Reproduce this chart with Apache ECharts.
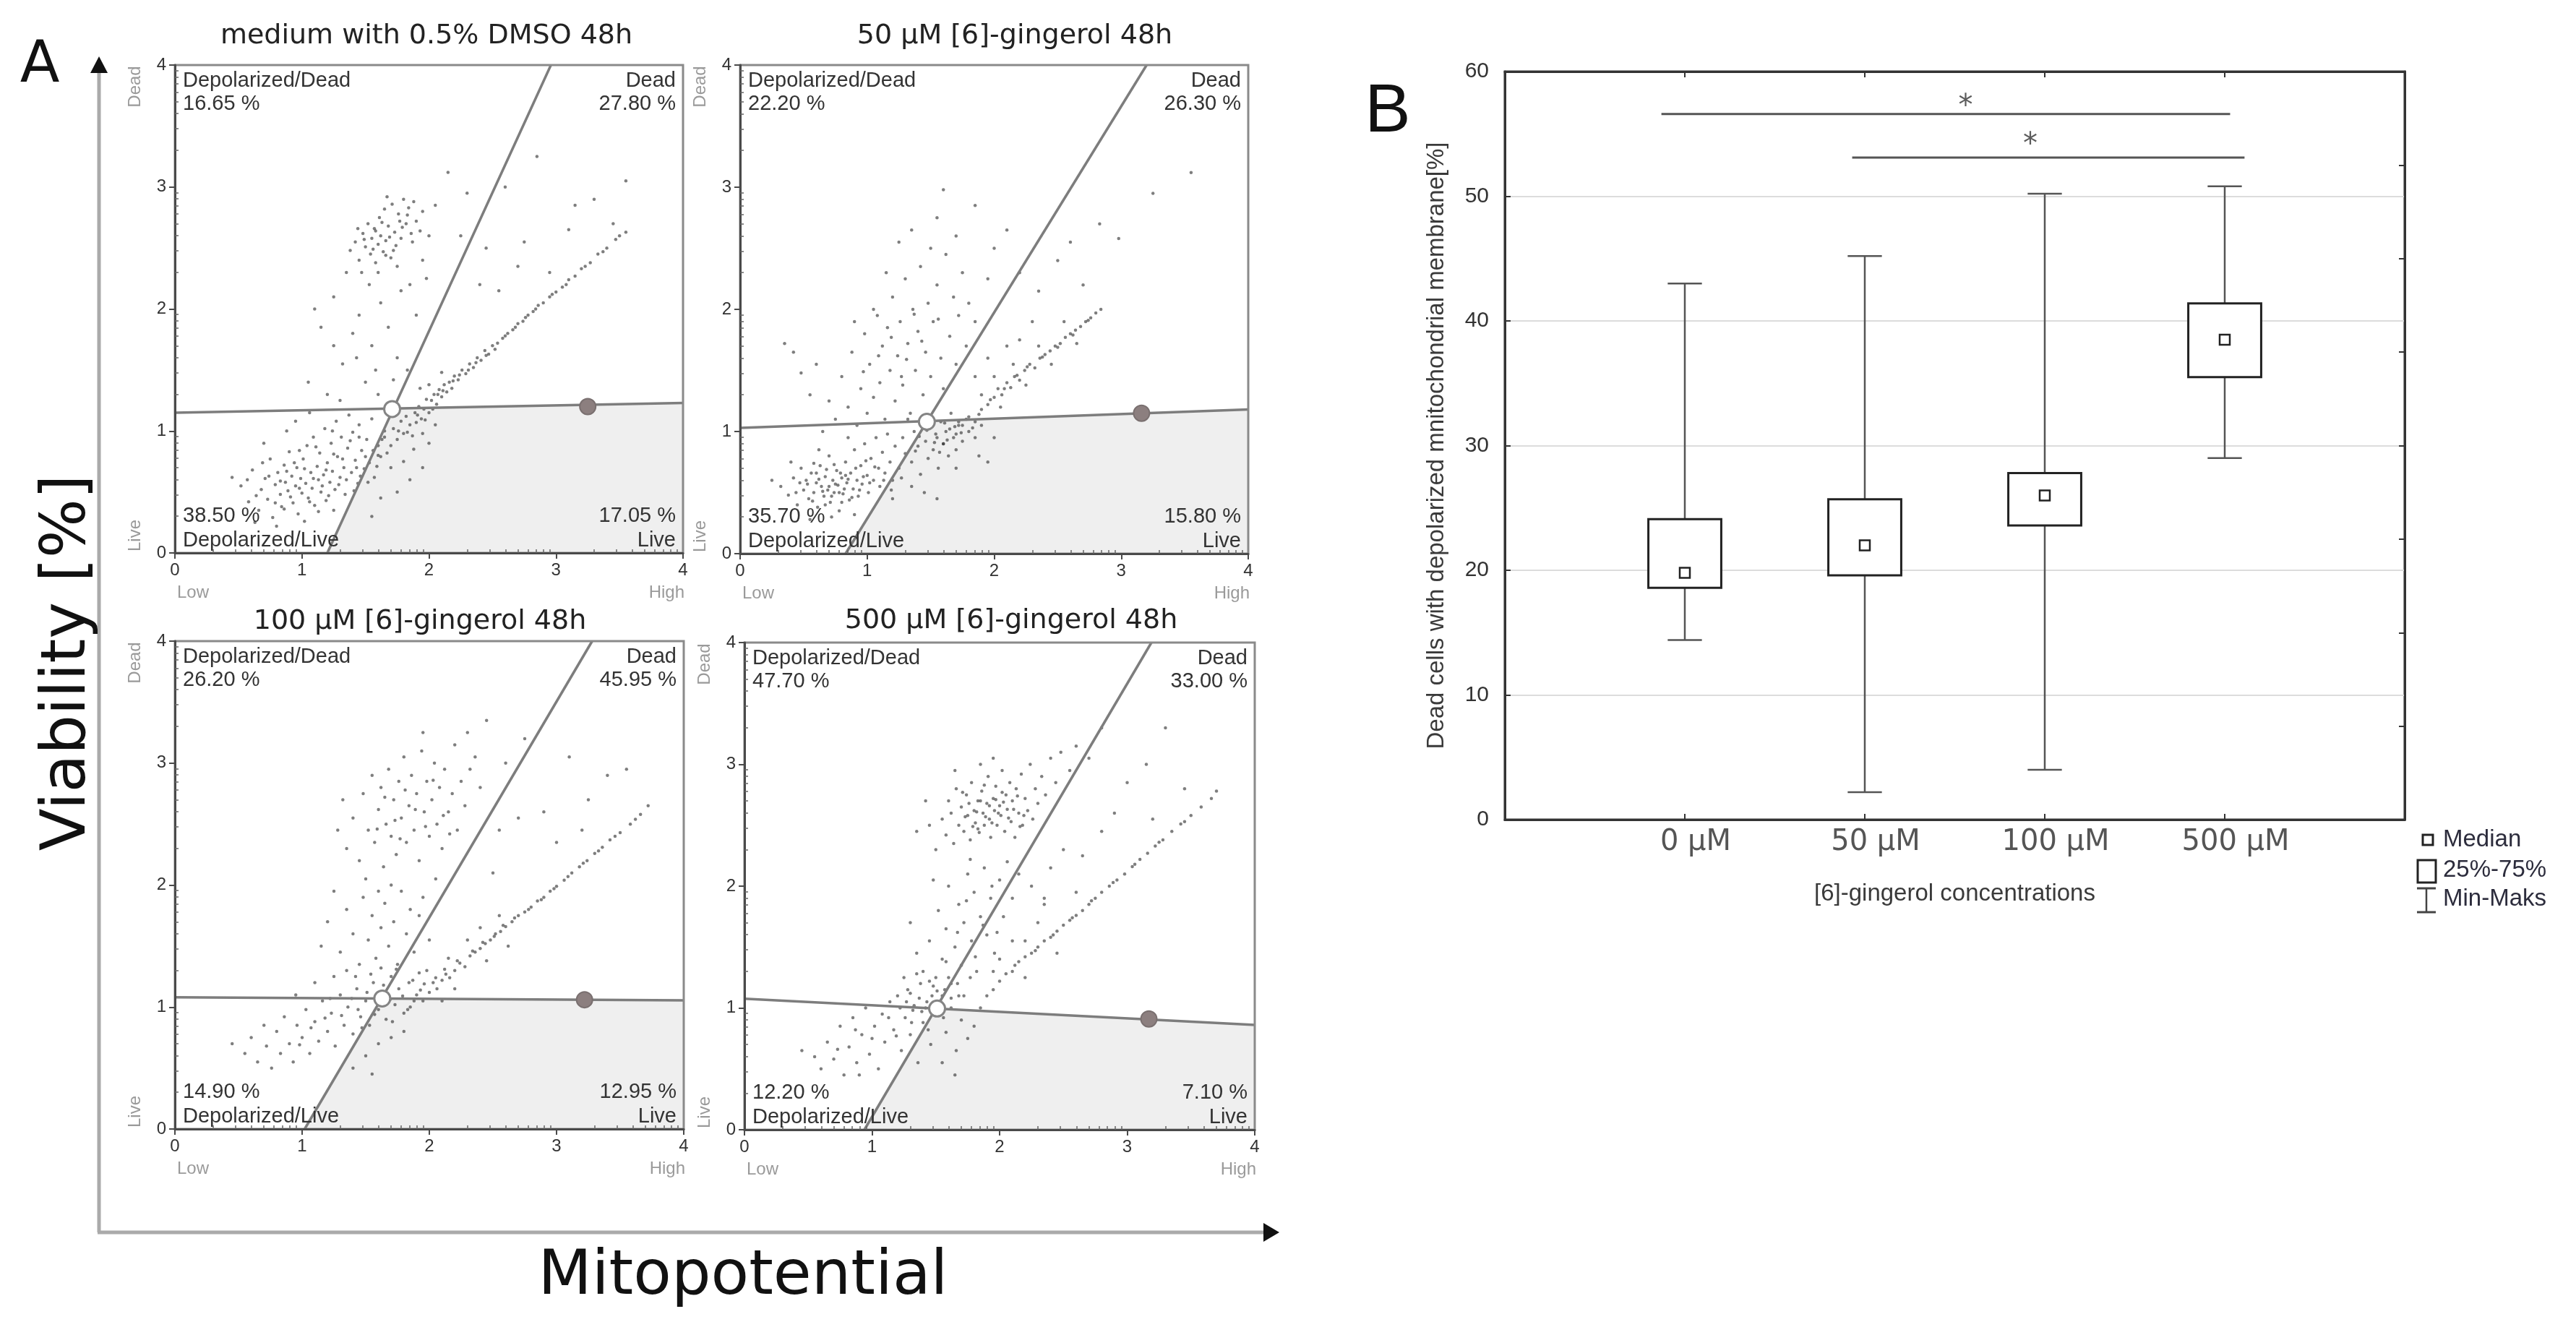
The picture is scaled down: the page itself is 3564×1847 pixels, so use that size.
<!DOCTYPE html>
<html><head><meta charset="utf-8">
<script src="https://cdn.jsdelivr.net/npm/echarts@6/dist/echarts.min.js"></script>
<style>html,body{margin:0;padding:0;background:#fff}#c{width:3564px;height:1847px}</style>
</head><body><div id="c"></div>
<script>
// ---------------- DATA ----------------
const panelTitles = ['medium with 0.5% DMSO 48h', '50 µM [6]-gingerol 48h', '100 µM [6]-gingerol 48h', '500 µM [6]-gingerol 48h'];
const quadNames = ['Depolarized/Dead', 'Dead', 'Depolarized/Live', 'Live'];
const quadPct = [
  ['16.65 %', '27.80 %', '38.50 %', '17.05 %'],
  ['22.20 %', '26.30 %', '35.70 %', '15.80 %'],
  ['26.20 %', '45.95 %', '14.90 %', '12.95 %'],
  ['47.70 %', '33.00 %', '12.20 %', '7.10 %']
];
const scatterTicks = ['0', '1', '2', '3', '4'];
// horizontal gate: y at x=0 and x=4
const gateH = [[1.15, 1.23], [1.03, 1.18], [1.08, 1.055], [1.075, 0.86]];
// diagonal gate: x at y=0 and y=4
const gateD = [[1.2, 2.96], [0.83, 3.2], [1.02, 3.28], [0.94, 3.19]];
const gateCross = [[1.71, 1.18], [1.47, 1.08], [1.63, 1.07], [1.51, 0.995]];
const gateDot = [[3.25, 1.2], [3.16, 1.15], [3.22, 1.06], [3.17, 0.91]];

// events (x, y pairs)
const dmsoPts = [
0.52,0.55,0.58,0.42,0.61,0.68,0.66,0.35,0.68,0.52,0.71,0.61,0.73,0.44,0.75,0.77,0.77,0.29,0.79,0.56,0.81,0.66,0.83,0.48,0.84,0.38,0.86,0.72,0.87,0.58,0.89,0.51,0.9,0.83,0.92,0.63,0.93,0.41,0.95,0.55,0.96,0.7,0.97,0.32,0.99,0.61,1.0,0.49,1.01,0.77,1.03,0.57,1.04,0.88,1.05,0.45,1.07,0.66,1.08,0.53,1.09,0.95,1.1,0.39,1.12,0.71,1.13,0.6,1.14,0.82,1.15,0.5,1.17,0.64,1.18,1.02,1.19,0.43,1.2,0.74,1.22,0.58,1.23,0.9,1.24,0.67,1.26,0.52,1.27,1.08,1.28,0.79,1.3,0.62,1.31,0.95,1.33,0.7,1.34,0.48,1.36,0.86,1.37,1.13,1.39,0.66,1.4,0.99,1.42,0.76,1.44,0.57,1.45,1.05,1.47,0.84,1.49,0.69,1.51,0.93,1.53,0.74,1.55,1.1,1.57,0.62,1.6,0.88,1.62,0.79,1.65,1.0,0.45,0.62,0.63,0.25,0.8,0.22,1.02,0.26,1.25,0.35,0.7,0.9,0.88,1.0,1.06,1.15,0.95,1.08,
1.38,2.48,1.42,2.55,1.45,2.4,1.48,2.62,1.5,2.51,1.52,2.7,1.54,2.45,1.55,2.58,1.57,2.66,1.58,2.38,1.6,2.53,1.61,2.75,1.62,2.6,1.64,2.47,1.65,2.82,1.66,2.56,1.68,2.68,1.7,2.42,1.71,2.86,1.73,2.63,1.74,2.52,1.76,2.78,1.78,2.58,1.8,2.9,1.82,2.7,1.84,2.83,1.86,2.62,1.88,2.88,1.6,2.3,1.53,2.2,1.9,2.72,1.95,2.8,1.75,2.35,1.47,2.3,1.67,2.92,
1.2,1.3,1.32,1.55,1.4,1.8,1.25,2.1,1.45,1.95,1.55,1.7,1.62,2.05,1.3,1.25,1.68,1.85,1.75,1.6,1.85,2.2,1.9,1.95,1.5,1.4,1.6,1.3,1.78,2.15,1.15,1.85,1.35,2.3,1.95,2.4,2.0,2.6,1.05,1.4,1.1,2.0,1.72,1.42,1.83,1.5,1.25,1.7,2.05,2.85,1.98,2.25,1.43,1.6,1.58,1.5,
1.6,0.8,1.65,0.95,1.7,0.88,1.72,1.02,1.75,0.93,1.78,1.08,1.8,0.98,1.82,1.12,1.85,1.05,1.87,0.96,1.89,1.15,1.9,1.07,1.92,1.2,1.94,1.1,1.96,1.18,1.98,1.26,2.0,1.15,2.02,1.25,2.04,1.3,2.06,1.22,2.08,1.34,2.1,1.28,2.12,1.38,2.14,1.32,2.16,1.4,2.18,1.35,2.2,1.45,2.23,1.42,2.26,1.5,2.29,1.47,2.32,1.55,2.35,1.52,2.38,1.6,2.41,1.58,2.44,1.66,2.47,1.63,2.5,1.7,2.54,1.72,2.58,1.76,2.62,1.8,2.66,1.83,2.7,1.88,2.74,1.9,2.78,1.95,2.82,1.98,2.86,2.03,2.9,2.05,2.95,2.1,3.0,2.14,3.05,2.18,3.1,2.24,3.15,2.27,3.2,2.33,3.27,2.38,3.33,2.45,3.4,2.5,3.47,2.57,3.55,2.63,
1.88,0.85,1.95,0.98,2.05,1.05,1.7,0.7,1.8,0.75,2.0,1.38,2.1,1.48,1.93,1.35,
2.15,3.12,2.3,2.95,2.45,2.5,2.6,3.0,2.75,2.55,2.85,3.25,2.95,2.3,3.1,2.65,3.3,2.9,3.45,2.7,3.55,3.05,2.55,2.15,2.4,2.2,2.7,2.35,3.15,2.85,2.25,2.6,
1.75,0.5,1.85,0.6,1.55,0.3,1.62,0.45,2.0,0.9,1.95,0.7,
0.74,0.63,0.79,0.41,0.83,0.59,0.88,0.67,0.91,0.46,0.94,0.74,0.98,0.53,1.02,0.69,1.06,0.42,1.09,0.61,1.11,0.87,1.16,0.55,1.19,0.68,1.21,0.47,1.25,0.81,1.29,0.56,1.32,0.77,1.35,0.6,1.38,0.92,1.41,0.51,1.43,0.7,1.46,0.63,1.5,0.79,1.52,0.58,1.56,0.84,1.59,0.71,1.63,0.93,1.67,0.82,0.69,0.74,0.64,0.47,0.57,0.6,0.86,0.36,1.13,0.34,0.98,0.84,1.24,1.0,1.45,0.95,
1.76,1.0,1.83,0.99,1.91,1.13,1.97,1.09,2.03,1.18,2.07,1.3,2.11,1.33,2.19,1.41,2.24,1.46,2.31,1.5,2.37,1.56,2.45,1.62,2.52,1.67,2.6,1.78,2.68,1.85,2.76,1.93,2.84,2.0,2.97,2.12,3.08,2.2,3.23,2.35,3.37,2.47,3.5,2.6,
1.49,2.57,1.56,2.49,1.63,2.71,1.69,2.59,1.72,2.48,1.79,2.67,1.83,2.77,1.58,2.64,1.66,2.44,1.77,2.72,1.44,2.66,1.87,2.55,1.93,2.64
];
const g50Pts = [
0.32,0.55,0.38,0.48,0.42,0.62,0.45,0.4,0.48,0.7,0.5,0.52,0.52,0.6,0.54,0.45,0.56,0.66,0.58,0.5,0.6,0.58,0.61,0.38,0.63,0.72,0.64,0.55,0.66,0.47,0.67,0.63,0.69,0.52,0.7,0.8,0.71,0.42,0.73,0.6,0.74,0.5,0.76,0.68,0.77,0.56,0.78,0.35,0.8,0.62,0.81,0.49,0.83,0.75,0.84,0.58,0.86,0.44,0.87,0.66,0.89,0.53,0.9,0.85,0.92,0.6,0.93,0.47,0.95,0.72,0.96,0.57,0.98,0.9,1.0,0.64,1.01,0.5,1.03,0.78,1.05,0.6,1.07,0.95,1.09,0.7,1.1,0.55,1.12,0.83,1.14,0.66,1.16,0.98,1.18,0.75,1.2,0.6,1.22,0.88,0.55,0.28,0.72,0.3,0.9,0.32,0.4,0.75,0.62,0.85,0.25,0.6,0.85,0.95,
0.65,1.0,0.7,1.25,0.75,1.1,0.8,1.45,0.85,1.2,0.88,1.65,0.92,1.05,0.95,1.35,0.98,1.8,1.0,1.15,1.02,1.55,1.05,1.28,1.08,1.95,1.1,1.4,1.12,1.7,1.14,1.1,1.16,1.85,1.18,1.5,1.2,2.1,1.22,1.25,1.24,1.62,1.26,1.9,1.28,1.38,1.3,2.25,1.32,1.72,1.34,1.15,1.36,2.0,1.38,1.5,1.4,1.82,1.42,2.35,1.44,1.3,1.46,1.65,1.48,2.05,1.5,1.45,1.52,1.9,1.55,2.2,1.58,1.6,1.6,1.35,1.62,2.45,1.65,1.78,1.68,2.1,1.7,1.55,1.72,1.95,1.75,2.3,1.78,1.7,1.8,2.05,1.85,1.9,0.6,1.55,0.55,1.3,0.48,1.48,0.35,1.72,0.42,1.65,1.25,2.55,1.35,2.65,1.5,2.5,1.15,2.3,1.05,2.0,0.9,1.9,
1.25,0.7,1.28,0.95,1.3,0.82,1.32,1.1,1.35,0.75,1.37,1.0,1.4,0.88,1.42,0.65,1.44,1.05,1.46,0.92,1.48,0.78,1.5,1.12,1.52,0.85,1.54,0.98,1.56,0.7,1.58,1.08,1.6,0.9,1.62,1.0,1.64,0.8,1.66,1.15,1.68,0.95,1.7,0.85,1.72,1.05,1.75,0.92,1.78,1.1,1.8,1.0,1.85,0.95,1.9,1.05,1.35,0.55,1.45,0.5,1.55,0.45,1.2,0.45,
1.55,0.95,1.6,0.9,1.65,1.02,1.7,0.98,1.75,1.05,1.8,1.12,1.85,1.08,1.9,1.18,1.95,1.22,2.0,1.28,2.03,1.35,2.06,1.3,2.1,1.4,2.13,1.36,2.16,1.45,2.2,1.42,2.24,1.5,2.28,1.55,2.32,1.52,2.36,1.6,2.4,1.63,2.44,1.66,2.48,1.7,2.52,1.72,2.56,1.77,2.6,1.8,2.64,1.83,2.68,1.86,2.72,1.9,2.76,1.93,2.8,1.97,2.84,2.0,2.05,1.2,2.15,1.55,2.25,1.38,2.35,1.7,2.45,1.55,2.55,1.9,2.65,1.72,1.9,1.3,2.0,1.45,
1.95,1.6,2.1,1.7,1.85,1.45,2.2,1.75,2.3,1.9,2.0,0.95,1.88,0.8,1.7,0.7,1.95,0.75,
1.55,2.75,1.7,2.6,1.85,2.85,2.0,2.5,2.1,2.65,2.2,2.3,2.35,2.15,2.5,2.4,2.83,2.7,2.98,2.58,3.25,2.95,3.55,3.12,1.6,2.98,1.95,2.25,2.7,2.2,2.6,2.55,
0.53,0.57,0.57,0.43,0.62,0.61,0.65,0.51,0.68,0.69,0.72,0.47,0.75,0.57,0.79,0.66,0.82,0.53,0.85,0.61,0.88,0.46,0.91,0.7,0.94,0.52,0.97,0.63,1.02,0.58,1.06,0.71,0.6,0.66,0.67,0.4,0.74,0.73,0.8,0.42,0.47,0.58,0.44,0.5,0.58,0.74,0.7,0.55,0.78,0.5,0.83,0.64,0.99,0.76,1.13,0.6,1.27,0.62,1.19,0.52,
1.41,0.96,1.53,0.91,1.61,1.07,1.69,1.04,1.74,0.99,1.57,0.83,1.47,1.01,1.38,0.84,1.83,1.03,1.63,0.93,
1.72,1.08,1.88,1.14,1.97,1.26,2.08,1.35,2.18,1.46,2.26,1.53,2.38,1.61,2.5,1.69,2.62,1.79,2.74,1.91,
1.19,1.77,1.31,1.59,1.43,1.74,1.09,1.62,1.27,1.45,1.56,1.92,0.97,1.49,1.37,1.96
];
const g100Pts = [
1.35,2.3,1.4,2.55,1.45,2.2,1.48,2.75,1.52,2.45,1.55,2.9,1.57,2.35,1.6,2.62,1.62,2.8,1.64,2.15,1.66,2.5,1.68,2.95,1.7,2.4,1.72,2.7,1.74,2.25,1.76,2.85,1.78,2.55,1.8,3.05,1.82,2.35,1.84,2.65,1.86,2.9,1.88,2.45,1.9,2.75,1.92,2.2,1.94,3.1,1.96,2.6,1.98,2.85,2.0,2.4,2.02,2.7,2.04,3.0,2.06,2.5,2.08,2.8,2.1,2.3,2.12,2.95,2.15,2.6,2.18,2.75,2.2,3.15,2.22,2.45,2.25,2.85,2.28,2.65,2.32,2.95,2.36,3.05,2.4,2.8,1.5,2.05,1.6,1.95,1.7,2.0,1.28,2.45,1.32,2.7,2.3,3.25,1.95,3.25,
1.3,1.45,1.35,1.8,1.4,1.6,1.45,1.35,1.48,1.9,1.52,1.55,1.55,1.75,1.58,1.4,1.62,1.65,1.65,1.85,1.68,1.5,1.72,1.7,1.75,1.35,1.78,1.95,1.82,1.6,1.85,1.8,1.88,1.45,1.92,1.75,1.2,1.7,1.25,1.95,1.15,1.5,2.0,1.55,1.95,1.9,2.05,2.05,1.42,1.25,
0.55,0.62,0.6,0.75,0.65,0.55,0.7,0.85,0.72,0.68,0.76,0.5,0.8,0.8,0.83,0.62,0.86,0.92,0.9,0.7,0.93,0.55,0.96,0.85,1.0,0.75,1.03,0.98,1.06,0.62,1.1,0.88,1.13,0.72,1.16,1.05,1.2,0.8,1.23,0.95,1.26,0.68,1.3,1.1,1.33,0.85,1.36,1.0,1.4,0.78,1.43,1.15,1.46,0.92,1.5,1.05,1.53,0.85,1.56,1.2,1.6,0.98,1.63,1.1,1.66,0.9,1.7,1.25,1.73,1.02,1.76,1.15,1.8,0.95,1.84,1.2,1.88,1.05,1.92,1.28,1.5,0.6,1.6,0.7,1.7,0.75,1.8,0.8,1.4,0.5,1.55,0.45,1.25,1.25,1.35,1.3,1.1,1.2,0.95,1.1,0.45,0.7,
1.85,1.0,1.9,1.1,1.95,1.05,2.0,1.12,2.03,1.2,2.06,1.15,2.1,1.22,2.13,1.27,2.16,1.24,2.2,1.3,2.24,1.36,2.28,1.33,2.32,1.42,2.36,1.45,2.4,1.48,2.44,1.52,2.48,1.55,2.52,1.6,2.56,1.62,2.6,1.66,2.65,1.7,2.7,1.75,2.75,1.78,2.8,1.82,2.85,1.87,2.9,1.9,2.95,1.95,3.0,1.99,3.06,2.04,3.12,2.1,3.18,2.15,3.24,2.2,3.3,2.26,3.36,2.31,3.42,2.37,3.5,2.43,3.58,2.5,3.66,2.58,3.72,2.65,2.15,1.4,2.3,1.55,2.45,1.38,2.55,1.75,2.2,1.15,2.4,1.65,2.62,1.5,1.98,1.3,2.1,1.05,
2.45,3.35,2.6,3.0,2.75,3.2,2.9,2.6,3.0,2.35,3.1,3.05,3.25,2.7,3.4,2.9,3.55,2.95,2.55,2.45,2.7,2.55,2.5,2.1,3.2,2.45,
1.44,0.98,1.51,1.12,1.57,0.94,1.64,1.18,1.69,1.06,1.74,1.31,1.79,1.09,1.83,0.98,1.87,1.22,1.93,1.14,1.54,1.27,1.62,1.32,1.71,0.88,1.47,0.83,1.39,1.07,1.31,0.93,1.22,1.07,1.18,0.91,1.07,0.83,0.98,0.69,
1.96,1.19,2.05,1.24,2.12,1.31,2.22,1.38,2.34,1.46,2.42,1.53,2.51,1.58,2.58,1.67,2.67,1.73,2.78,1.8,2.88,1.88,2.98,1.97,3.09,2.07,3.21,2.18,3.33,2.28,3.46,2.4,3.62,2.54,
1.65,2.72,1.73,2.53,1.81,2.78,1.89,2.62,1.97,2.48,2.03,2.86,2.11,2.57,1.59,2.46,1.77,2.38,2.16,2.42
];
const g500Pts = [
1.55,2.55,1.58,2.42,1.6,2.7,1.62,2.6,1.64,2.35,1.66,2.8,1.68,2.5,1.7,2.65,1.72,2.45,1.74,2.75,1.75,2.58,1.77,2.38,1.78,2.85,1.8,2.62,1.81,2.52,1.83,2.7,1.84,2.44,1.86,2.78,1.87,2.6,1.88,2.5,1.9,2.68,1.91,2.9,1.92,2.55,1.93,2.4,1.95,2.72,1.96,2.62,1.97,2.82,1.98,2.5,2.0,2.66,2.01,2.58,2.02,2.95,2.04,2.45,2.05,2.75,2.06,2.63,2.08,2.85,2.09,2.53,2.1,2.7,2.12,2.4,2.13,2.8,2.15,2.6,2.17,2.92,2.18,2.5,2.2,2.72,2.22,2.62,2.24,3.0,2.26,2.55,2.28,2.8,2.3,2.68,2.33,2.9,2.36,2.75,2.4,3.05,2.44,2.85,2.48,3.1,1.5,2.3,1.45,2.5,1.42,2.7,1.65,2.95,1.85,3.0,1.95,3.05,2.6,3.15,2.55,2.95,1.35,2.45,
1.4,1.3,1.45,1.55,1.5,1.25,1.52,1.8,1.55,1.4,1.58,1.65,1.6,2.0,1.62,1.2,1.65,1.5,1.68,1.85,1.7,1.35,1.72,1.7,1.75,2.1,1.78,1.55,1.8,1.95,1.82,1.3,1.85,1.75,1.88,2.15,1.9,1.6,1.93,1.9,1.96,1.45,2.0,2.05,2.03,1.75,2.06,2.2,2.1,1.9,2.15,2.1,1.35,1.45,1.3,1.7,2.2,1.55,1.48,2.05,
0.55,0.6,0.6,0.5,0.65,0.72,0.7,0.58,0.75,0.85,0.78,0.45,0.82,0.68,0.85,0.92,0.88,0.55,0.92,0.78,0.95,1.0,0.98,0.62,1.02,0.85,1.05,0.5,1.08,0.95,1.1,0.72,1.14,1.05,1.17,0.82,1.2,1.1,1.23,0.65,1.26,0.92,1.28,1.15,1.3,0.78,1.33,1.02,1.36,0.55,1.38,1.2,1.4,0.88,1.43,1.05,1.46,0.7,1.48,1.18,1.52,0.95,1.55,1.1,1.58,0.8,1.62,1.0,1.66,0.65,1.7,0.9,1.75,0.75,1.8,0.85,1.65,0.45,1.55,0.55,1.25,1.25,1.35,1.28,0.45,0.65,0.9,0.45,
1.22,1.0,1.27,1.05,1.32,0.98,1.37,1.08,1.42,1.0,1.47,1.1,1.52,1.05,1.57,1.15,1.62,1.08,1.67,1.2,1.72,1.1,1.77,1.25,1.3,1.12,1.45,1.22,1.6,1.25,
1.85,1.0,1.9,1.1,1.95,1.15,2.0,1.22,2.05,1.28,2.1,1.3,2.15,1.38,2.2,1.42,2.25,1.45,2.3,1.5,2.35,1.55,2.4,1.58,2.45,1.63,2.5,1.68,2.55,1.72,2.6,1.76,2.65,1.8,2.7,1.85,2.75,1.9,2.8,1.95,2.86,2.0,2.92,2.05,2.98,2.1,3.04,2.16,3.1,2.22,3.16,2.27,3.22,2.33,3.28,2.38,3.35,2.45,3.42,2.51,3.5,2.58,3.58,2.65,3.66,2.72,3.7,2.78,2.1,1.55,2.3,1.7,2.45,1.45,2.2,1.25,2.0,1.4,2.35,1.85,2.6,1.95,1.95,1.3,
2.25,2.0,2.4,2.15,2.5,2.3,2.65,2.25,2.8,2.45,2.35,1.9,
2.8,3.3,3.0,2.85,3.15,3.0,3.3,3.3,2.9,2.6,3.45,2.8,2.7,3.05,3.2,2.55,
1.73,2.57,1.76,2.68,1.79,2.49,1.82,2.61,1.85,2.7,1.89,2.57,1.92,2.66,1.94,2.52,1.97,2.71,1.99,2.6,2.03,2.69,2.07,2.56,2.11,2.63,2.14,2.74,2.19,2.58,1.71,2.77,1.88,2.83,2.02,2.77,1.83,2.47,2.16,2.49,
1.67,1.62,1.74,1.88,1.81,1.42,1.87,1.68,1.94,2.0,1.77,2.22,1.58,1.38,1.98,1.62,
1.13,0.92,1.19,0.77,1.31,0.88,1.39,0.97,1.44,0.82,1.51,1.14,1.56,0.92,1.68,1.1,1.0,0.75,0.87,0.82,0.73,0.66,
2.12,1.35,2.28,1.47,2.42,1.6,2.57,1.74,2.72,1.88,2.89,2.03,3.06,2.18,3.25,2.36,3.45,2.53
];
const panelPts = [dmsoPts, g50Pts, g100Pts, g500Pts];

// box plot (Dead cells with depolarized membrane, %)
const boxCats = ['0 µM', '50 µM', '100 µM', '500 µM'];
const boxMin = [14.4, 2.2, 4.0, 29.0];
const boxQ1 = [18.6, 19.6, 23.6, 35.5];
const boxMed = [19.8, 22.0, 26.0, 38.5];
const boxQ3 = [24.1, 25.7, 27.8, 41.4];
const boxMax = [43.0, 45.2, 50.2, 50.8];
const sigBars = [[0.87, 4.03, 56.6], [1.93, 4.11, 53.1]];
const sigStars = [[2.56, 57.6], [2.92, 54.5]];
const legendItems = ['Median', '25%-75%', 'Min-Maks'];

// ---------------- LAYOUT ----------------
const PANELS = [
  {l: 242, t: 90, w: 703, h: 675, tc: [590, 50]},
  {l: 1024, t: 90, w: 703, h: 676, tc: [1404, 50]},
  {l: 242, t: 887, w: 704, h: 675, tc: [581, 860]},
  {l: 1030, t: 889, w: 706, h: 674, tc: [1399, 859]}
];
const BOX = {l: 2082, t: 99, w: 1245, h: 1035};
const minorTicks = [];
for (let k = 0; k < 4; k++) for (let m = 2; m <= 9; m++) minorTicks.push(k + Math.log10(m));

const chart = echarts.init(document.getElementById('c'), null, {renderer: 'canvas'});
const grids = [], xAxes = [], yAxes = [], series = [], gfx = [];
const ARIAL = 'Liberation Sans';
const DV = 'DejaVu Sans';

PANELS.forEach((p, i) => {
  grids.push({left: p.l, top: p.t, width: p.w, height: p.h, show: true, borderColor: '#8a8a8a', borderWidth: 3, backgroundColor: 'transparent', z: 10});
  const xi = xAxes.length, yi = yAxes.length;
  const mainAxis = () => ({
    type: 'value', gridIndex: i, min: 0, max: 4, interval: 1, z: 10,
    axisLine: {show: true, onZero: false, lineStyle: {color: '#4a4a4a', width: 3}},
    axisTick: {show: true, length: 8, lineStyle: {color: '#4a4a4a', width: 2}},
    axisLabel: {fontSize: 24, color: '#333', margin: 12, fontFamily: ARIAL, formatter: v => scatterTicks[Math.round(v)]},
    splitLine: {show: false}
  });
  const minorAxis = () => ({
    type: 'value', gridIndex: i, min: 0, max: 4, z: 10,
    axisLine: {show: false},
    axisTick: {show: true, customValues: minorTicks, length: 5, lineStyle: {color: '#666', width: 1.5}},
    axisLabel: {show: false}, splitLine: {show: false}
  });
  xAxes.push(mainAxis(), minorAxis());
  yAxes.push(mainAxis(), minorAxis());
  const pts = [];
  const arr = panelPts[i];
  for (let k = 0; k + 1 < arr.length; k += 2) pts.push([arr[k], arr[k + 1]]);
  const [hl, hr] = gateH[i], [db, dt] = gateD[i], cr = gateCross[i], dot = gateDot[i];
  series.push({type: 'line', xAxisIndex: xi, yAxisIndex: yi, data: [[db, 0], cr, [4, hr]], symbol: 'none', silent: true,
    lineStyle: {width: 0}, areaStyle: {color: '#efefef', opacity: 1}, z: 1});
  series.push({type: 'scatter', xAxisIndex: xi, yAxisIndex: yi, data: pts, symbolSize: 4.5, silent: true,
    itemStyle: {color: 'rgba(40,40,40,0.75)'}, z: 3});
  series.push({type: 'line', xAxisIndex: xi, yAxisIndex: yi, data: [[0, hl], [4, hr]], symbol: 'none', silent: true,
    lineStyle: {color: '#7d7d7d', width: 3.5}, z: 4});
  series.push({type: 'line', xAxisIndex: xi, yAxisIndex: yi, data: [[db, 0], [dt, 4]], symbol: 'none', silent: true,
    lineStyle: {color: '#7d7d7d', width: 3.5}, z: 4});
  series.push({type: 'scatter', xAxisIndex: xi, yAxisIndex: yi, data: [cr], symbolSize: 22, silent: true,
    itemStyle: {color: '#fff', borderColor: '#858585', borderWidth: 3, opacity: 1}, z: 5});
  series.push({type: 'scatter', xAxisIndex: xi, yAxisIndex: yi, data: [dot], symbolSize: 22, silent: true,
    itemStyle: {color: '#8c7f7f', borderColor: '#7a7070', borderWidth: 2, opacity: 1}, z: 5});

  // texts
  const L = p.l, T = p.t, R = p.l + p.w, B = p.t + p.h;
  const txt = (x, y, text, align, size, color, family, rot) => ({
    type: 'text', x: x, y: y, rotation: rot || 0, silent: true, z: 20,
    style: {text: text, fill: color, fontSize: size, fontFamily: family, textAlign: align, textVerticalAlign: 'middle'}
  });
  gfx.push(txt(p.tc[0], p.tc[1], panelTitles[i], 'center', 38, '#222', DV));
  gfx.push(txt(L + 11, T + 22, quadNames[0], 'left', 29, '#333', ARIAL));
  gfx.push(txt(L + 11, T + 54, quadPct[i][0], 'left', 29, '#333', ARIAL));
  gfx.push(txt(R - 10, T + 22, quadNames[1], 'right', 29, '#333', ARIAL));
  gfx.push(txt(R - 10, T + 54, quadPct[i][1], 'right', 29, '#333', ARIAL));
  gfx.push(txt(L + 11, B - 51, quadPct[i][2], 'left', 29, '#333', ARIAL));
  gfx.push(txt(L + 11, B - 17, quadNames[2], 'left', 29, '#333', ARIAL));
  gfx.push(txt(R - 10, B - 51, quadPct[i][3], 'right', 29, '#333', ARIAL));
  gfx.push(txt(R - 10, B - 17, quadNames[3], 'right', 29, '#333', ARIAL));
  gfx.push(txt(L + 3, B + 55, 'Low', 'left', 24, '#9a9a9a', ARIAL));
  gfx.push(txt(R + 2, B + 55, 'High', 'right', 24, '#9a9a9a', ARIAL));
  gfx.push(txt(L - 55, T + 30, 'Dead', 'center', 24, '#9a9a9a', ARIAL, Math.PI / 2));
  gfx.push(txt(L - 55, B - 24, 'Live', 'center', 24, '#9a9a9a', ARIAL, Math.PI / 2));
});

// ---------- box plot panel ----------
const gi = grids.length;
grids.push({left: BOX.l, top: BOX.t, width: BOX.w, height: BOX.h, show: true, borderColor: '#333', borderWidth: 3, backgroundColor: 'transparent'});
const bx = xAxes.length, by = yAxes.length;
xAxes.push({
  type: 'value', gridIndex: gi, min: 0, max: 5, interval: 1,
  axisLine: {show: true, onZero: false, lineStyle: {color: '#333', width: 3}},
  axisTick: {show: true, inside: true, length: 8, lineStyle: {color: '#333', width: 2}},
  axisLabel: {fontSize: 40, fontFamily: DV, color: '#555', margin: 12, padding: [0, 0, 0, 30],
    formatter: v => (v >= 1 && v <= boxCats.length) ? boxCats[Math.round(v) - 1] : ''},
  splitLine: {show: false},
  name: '[6]-gingerol concentrations', nameLocation: 'middle', nameGap: 86,
  nameTextStyle: {fontSize: 33, fontFamily: ARIAL, color: '#3a3a3a'}
});
xAxes.push({
  type: 'value', gridIndex: gi, position: 'top', min: 0, max: 5, interval: 1,
  axisLine: {show: true, onZero: false, lineStyle: {color: '#333', width: 3}},
  axisTick: {show: true, inside: true, length: 8, lineStyle: {color: '#333', width: 2}},
  axisLabel: {show: false}, splitLine: {show: false}
});
yAxes.push({
  type: 'value', gridIndex: gi, min: 0, max: 60, interval: 10,
  axisLine: {show: true, onZero: false, lineStyle: {color: '#333', width: 3}},
  axisTick: {show: true, inside: true, length: 8, lineStyle: {color: '#333', width: 2}},
  axisLabel: {fontSize: 30, fontFamily: ARIAL, color: '#333', margin: 22},
  splitLine: {show: true, lineStyle: {color: '#dcdcdc', width: 2}},
  name: 'Dead cells with depolarized mnitochondrial membrane[%]', nameLocation: 'middle', nameGap: 78, nameRotate: 90,
  nameTextStyle: {fontSize: 33, fontFamily: ARIAL, color: '#3a3a3a'}
});
yAxes.push({
  type: 'value', gridIndex: gi, position: 'right', min: 0, max: 60, interval: 7.5,
  axisLine: {show: true, onZero: false, lineStyle: {color: '#333', width: 3}},
  axisTick: {show: true, inside: true, length: 8, lineStyle: {color: '#333', width: 2}},
  axisLabel: {show: false}, splitLine: {show: false}
});

const boxData = boxCats.map((c, i) => [i + 1, boxMin[i], boxQ1[i], boxMed[i], boxQ3[i], boxMax[i]]);
series.push({
  type: 'custom', xAxisIndex: bx, yAxisIndex: by, data: boxData, silent: true, z: 3,
  encode: {x: 0, y: [1, 5]},
  renderItem: (params, api) => {
    const x = api.value(0);
    const pMin = api.coord([x, api.value(1)]), pQ1 = api.coord([x, api.value(2)]);
    const pMed = api.coord([x, api.value(3)]), pQ3 = api.coord([x, api.value(4)]);
    const pMax = api.coord([x, api.value(5)]);
    const bw = api.size([0.405, 0])[0], cw = api.size([0.19, 0])[0];
    const cx = pMin[0];
    const ws = {stroke: '#555', lineWidth: 2.5};
    return {type: 'group', children: [
      {type: 'line', shape: {x1: cx, y1: pMax[1], x2: cx, y2: pQ3[1]}, style: ws},
      {type: 'line', shape: {x1: cx, y1: pQ1[1], x2: cx, y2: pMin[1]}, style: ws},
      {type: 'line', shape: {x1: cx - cw / 2, y1: pMax[1], x2: cx + cw / 2, y2: pMax[1]}, style: ws},
      {type: 'line', shape: {x1: cx - cw / 2, y1: pMin[1], x2: cx + cw / 2, y2: pMin[1]}, style: ws},
      {type: 'rect', shape: {x: cx - bw / 2, y: pQ3[1], width: bw, height: pQ1[1] - pQ3[1]},
        style: {fill: '#fff', stroke: '#222', lineWidth: 3}},
      {type: 'rect', shape: {x: cx - 7, y: pMed[1] - 7, width: 14, height: 14},
        style: {fill: '#fff', stroke: '#222', lineWidth: 2.5}}
    ]};
  }
});
sigBars.forEach(b => {
  series.push({type: 'line', xAxisIndex: bx, yAxisIndex: by, data: [[b[0], b[2]], [b[1], b[2]]], symbol: 'none', silent: true,
    lineStyle: {color: '#555', width: 3}, z: 4});
});
series.push({type: 'scatter', xAxisIndex: bx, yAxisIndex: by, data: sigStars, symbolSize: 1, silent: true,
  itemStyle: {color: 'rgba(0,0,0,0)'}, z: 5,
  label: {show: true, position: 'inside', formatter: '*', fontSize: 40, fontFamily: DV, color: '#333', offset: [0, 8]}});

// ---------- decorations ----------
const T2 = (x, y, text, size, family, color, align, rot) => ({
  type: 'text', x: x, y: y, rotation: rot || 0, silent: true, z: 20,
  style: {text: text, fill: color, fontSize: size, fontFamily: family, textAlign: align || 'center', textVerticalAlign: 'middle'}
});
gfx.push({type: 'polyline', silent: true, z: 5, shape: {points: [[137, 1705], [137, 98]]}, style: {stroke: '#aaaaaa', lineWidth: 5}});
gfx.push({type: 'polyline', silent: true, z: 5, shape: {points: [[135, 1705], [1752, 1705]]}, style: {stroke: '#aaaaaa', lineWidth: 5}});
gfx.push({type: 'polygon', silent: true, z: 6, shape: {points: [[137, 78], [125, 101], [149, 101]]}, style: {fill: '#111'}});
gfx.push({type: 'polygon', silent: true, z: 6, shape: {points: [[1770, 1705], [1748, 1692], [1748, 1718]]}, style: {fill: '#111'}});
gfx.push(T2(95, 917, 'Viability [%]', 86, DV, '#111', 'center', Math.PI / 2));
gfx.push(T2(1028, 1768, 'Mitopotential', 86, DV, '#111'));
gfx.push(T2(55, 92, 'A', 80, DV, '#111'));
gfx.push(T2(1920, 156, 'B', 95, ARIAL, '#111'));
// legend of the box plot
gfx.push({type: 'rect', silent: true, z: 20, shape: {x: 3352, y: 1155, width: 14, height: 14}, style: {fill: '#fff', stroke: '#222', lineWidth: 3}});
gfx.push({type: 'rect', silent: true, z: 20, shape: {x: 3345, y: 1190, width: 25, height: 31}, style: {fill: '#fff', stroke: '#222', lineWidth: 3}});
gfx.push({type: 'line', silent: true, z: 20, shape: {x1: 3357, y1: 1229, x2: 3357, y2: 1262}, style: {stroke: '#444', lineWidth: 2.5}});
gfx.push({type: 'line', silent: true, z: 20, shape: {x1: 3344, y1: 1229, x2: 3370, y2: 1229}, style: {stroke: '#444', lineWidth: 3}});
gfx.push({type: 'line', silent: true, z: 20, shape: {x1: 3344, y1: 1262, x2: 3370, y2: 1262}, style: {stroke: '#444', lineWidth: 3}});
const legY = [1162, 1204, 1244];
legendItems.forEach((n, i) => gfx.push(T2(3380, legY[i], n, 33, ARIAL, '#2c2c3c', 'left')));

chart.setOption({
  animation: false,
  backgroundColor: '#fff',
  grid: grids, xAxis: xAxes, yAxis: yAxes, series: series, graphic: {elements: gfx}
});
</script></body></html>
